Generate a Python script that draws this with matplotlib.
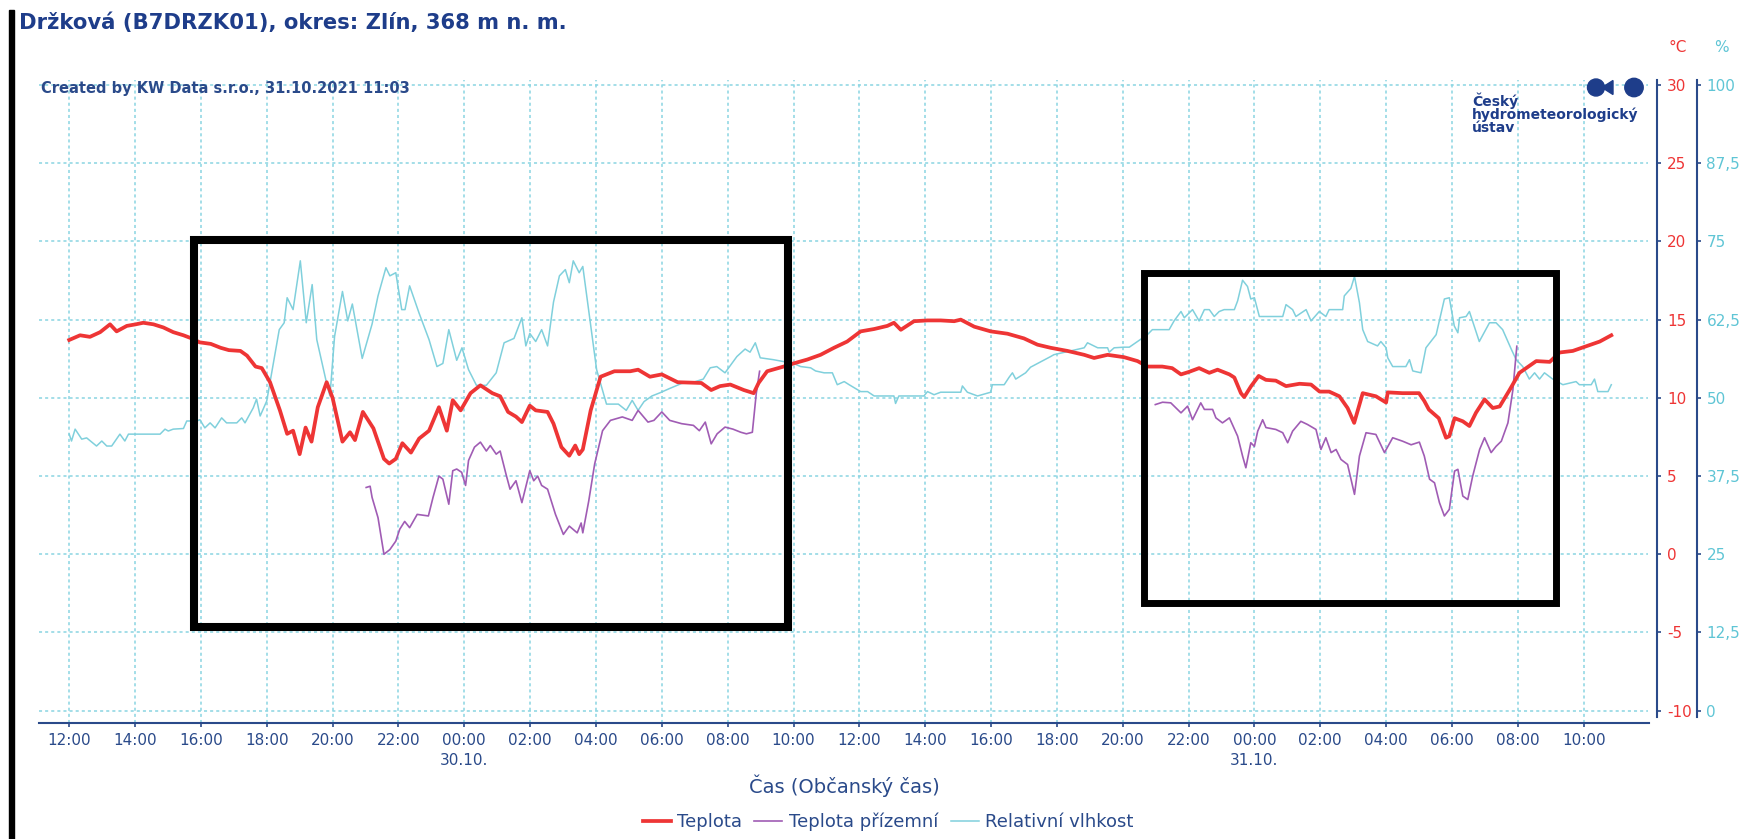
import numpy as np
import pandas as pd
import matplotlib
matplotlib.use("Agg")
import matplotlib.pyplot as plt
import matplotlib.dates as mdates
from matplotlib.patches import Rectangle, Circle, Polygon

plt.rcParams['font.family'] = ['DejaVu Sans']
plt.rcParams['axes.unicode_minus'] = False

W, H = 1749, 839
start = pd.Timestamp("2021-10-29 12:00")

# hodiny od 29.10. 12:00
teplota_h = [0.0, 0.33, 0.63, 0.94, 1.24, 1.44, 1.75, 2.02, 2.25, 2.56,
             2.86, 3.16, 3.47, 3.72, 3.96, 4.3, 4.6, 4.85, 5.2, 5.4,
             5.66, 5.85, 6.1, 6.4, 6.62, 6.8, 7.0, 7.18, 7.36, 7.55,
             7.82, 8.0, 8.3, 8.53, 8.68, 8.92, 9.24, 9.56, 9.72, 9.92,
             10.12, 10.38, 10.63, 10.93, 11.23, 11.47, 11.65, 11.89, 12.19, 12.49,
             12.85, 13.09, 13.33, 13.57, 13.75, 13.99, 14.17, 14.53, 14.71, 14.95,
             15.19, 15.37, 15.49, 15.6, 15.84, 16.14, 16.56, 17.04, 17.28, 17.64,
             18.0, 18.48, 19.2, 19.5, 19.77, 20.08, 20.49, 20.79, 20.94, 21.2,
             21.7, 22.0, 22.42, 22.82, 23.23, 23.63, 24.04, 24.45, 24.85, 25.05,
             25.26, 25.66, 26.07, 26.47, 26.88, 27.08, 27.49, 27.99, 28.5, 29.0,
             29.41, 29.81, 30.32, 30.83, 31.13, 31.54, 32.04, 32.45, 32.75, 33.2,
             33.5, 33.77, 34.0, 34.32, 34.63, 34.88, 35.24, 35.39, 35.59, 35.69,
             35.9, 36.13, 36.35, 36.65, 36.96, 37.37, 37.72, 37.98, 38.27, 38.58,
             38.83, 39.03, 39.29, 39.69, 40.0, 40.05, 40.5, 41.0, 41.16, 41.3,
             41.6, 41.82, 41.92, 42.08, 42.33, 42.53, 42.73, 42.99, 43.24, 43.45,
             43.75, 44.05, 44.56, 44.97, 45.27, 45.67, 46.08, 46.49, 46.84]
teplota = [13.7, 14.0, 13.9, 14.2, 14.7, 14.25, 14.6, 14.7, 14.8, 14.7,
           14.5, 14.2, 14.0, 13.8, 13.55, 13.45, 13.2, 13.05, 13.0, 12.7,
           12.0, 11.9, 11.0, 9.2, 7.7, 7.9, 6.4, 8.1, 7.2, 9.4,
           11.0, 10.0, 7.2, 7.8, 7.3, 9.1, 8.05, 6.1, 5.8, 6.1,
           7.1, 6.5, 7.4, 7.9, 9.4, 7.9, 9.85, 9.2, 10.3, 10.8,
           10.3, 10.1, 9.1, 8.8, 8.45, 9.5, 9.2, 9.1, 8.35, 6.85,
           6.3, 6.95, 6.4, 6.7, 9.2, 11.35, 11.7, 11.7, 11.8, 11.35,
           11.5, 11.0, 10.95, 10.5, 10.75, 10.85, 10.5, 10.3, 10.95, 11.7,
           12.0, 12.2, 12.45, 12.75, 13.2, 13.6, 14.25, 14.4, 14.6, 14.8,
           14.35, 14.9, 14.95, 14.95, 14.9, 15.0, 14.55, 14.25, 14.1, 13.8,
           13.4, 13.2, 13.0, 12.75, 12.55, 12.75, 12.6, 12.35, 12.0, 12.0,
           11.9, 11.5, 11.65, 11.9, 11.6, 11.8, 11.5, 11.3, 10.3, 10.05,
           10.75, 11.4, 11.15, 11.1, 10.75, 10.9, 10.85, 10.4, 10.4, 10.1,
           9.35, 8.4, 10.3, 10.1, 9.7, 10.35, 10.3, 10.3, 9.8, 9.25,
           8.7, 7.45, 7.55, 8.7, 8.5, 8.2, 9.05, 9.9, 9.35, 9.45,
           10.5, 11.6, 12.35, 12.3, 12.9, 13.0, 13.3, 13.6, 14.0]

vlhkost_h = [0.0, 0.07, 0.18, 0.38, 0.53, 0.83, 0.99, 1.14, 1.29, 1.54,
             1.69, 1.8, 2.76, 2.91, 3.01, 3.16, 3.47, 3.57, 3.87, 3.97,
             4.12, 4.28, 4.43, 4.63, 4.78, 5.09, 5.24, 5.34, 5.59, 5.69,
             5.8, 6.0, 6.2, 6.38, 6.53, 6.62, 6.8, 7.02, 7.2, 7.38,
             7.52, 7.82, 7.92, 8.06, 8.3, 8.46, 8.6, 8.9, 9.2, 9.38,
             9.62, 9.74, 9.92, 10.1, 10.2, 10.34, 10.63, 10.93, 11.17, 11.35,
             11.53, 11.77, 11.93, 12.13, 12.37, 12.67, 12.97, 13.21, 13.51, 13.75,
             13.87, 13.99, 14.17, 14.35, 14.53, 14.71, 14.89, 15.07, 15.19, 15.31,
             15.49, 15.6, 15.72, 16.02, 16.32, 16.68, 16.92, 17.1, 17.28, 17.46,
             17.7, 17.94, 18.24, 18.6, 18.96, 19.26, 19.47, 19.67, 19.92, 20.28,
             20.53, 20.68, 20.84, 20.99, 21.39, 22.0, 22.22, 22.52, 22.67, 22.93,
             23.18, 23.33, 23.54, 23.69, 24.04, 24.25, 24.45, 25.05, 25.1, 25.2,
             25.96, 26.07, 26.27, 26.47, 27.08, 27.13, 27.28, 27.59, 27.99, 28.04,
             28.4, 28.55, 28.65, 28.75, 29.05, 29.2, 29.81, 29.91, 30.83, 30.93,
             31.24, 31.54, 31.59, 31.74, 32.04, 32.2, 32.45, 32.75, 32.9, 33.41,
             33.56, 33.77, 33.87, 34.12, 34.32, 34.48, 34.63, 34.78, 34.93, 35.08,
             35.39, 35.49, 35.64, 35.79, 35.89, 36.0, 36.15, 36.86, 36.96, 37.16,
             37.26, 37.57, 37.72, 37.97, 38.17, 38.27, 38.68, 38.73, 38.93, 39.04,
             39.19, 39.29, 39.44, 39.74, 39.84, 40.0, 40.05, 40.2, 40.6, 40.71,
             40.81, 41.06, 41.21, 41.52, 41.77, 41.92, 42.07, 42.18, 42.23, 42.43,
             42.53, 42.83, 43.14, 43.34, 43.54, 43.8, 43.95, 44.15, 44.35, 44.51,
             44.66, 44.81, 45.06, 45.37, 45.77, 45.87, 46.23, 46.33, 46.43, 46.74,
             46.84]
vlhkost = [44.2, 43.1, 45.0, 43.4, 43.6, 42.3, 43.1, 42.3, 42.3, 44.2,
           43.1, 44.2, 44.2, 45.0, 44.7, 45.0, 45.1, 46.3, 46.3, 46.5,
           45.2, 46.0, 45.2, 46.8, 46.0, 46.0, 46.8, 46.0, 48.4, 49.8,
           47.1, 49.5, 55.5, 60.9, 62.0, 66.0, 64.1, 71.9, 62.0, 68.1,
           59.3, 52.3, 50.3, 59.8, 67.0, 62.3, 65.0, 56.3, 61.8, 66.3,
           70.8, 69.5, 70.0, 64.1, 64.1, 67.9, 63.5, 59.3, 55.0, 55.5,
           60.9, 56.0, 58.0, 54.5, 52.0, 52.0, 54.0, 58.8, 59.5, 62.8,
           58.3, 60.3, 59.0, 60.9, 58.3, 65.3, 69.5, 70.5, 68.4, 71.9,
           70.0, 71.0, 66.3, 54.5, 49.0, 49.0, 48.0, 49.6, 48.0, 49.4,
           50.3, 50.8, 51.5, 52.3, 52.5, 53.0, 54.8, 55.0, 54.0, 56.6,
           57.8, 57.3, 58.8, 56.4, 56.1, 55.5, 55.0, 54.8, 54.3, 54.0,
           54.0, 52.1, 52.6, 52.1, 51.0, 51.0, 50.3, 50.3, 49.1, 50.3,
           50.3, 51.0, 50.5, 50.9, 50.9, 51.9, 50.9, 50.3, 50.9, 52.1,
           52.1, 53.3, 54.0, 53.0, 54.0, 54.9, 56.6, 56.9, 58.0, 58.8,
           58.0, 58.0, 57.3, 58.0, 58.1, 58.1, 59.0, 60.1, 60.9, 60.9,
           62.3, 63.8, 62.8, 64.1, 62.3, 64.1, 64.1, 63.0, 63.8, 64.1,
           64.1, 65.5, 68.8, 67.8, 65.8, 66.0, 63.0, 63.0, 64.9, 64.1,
           63.0, 64.1, 62.3, 63.8, 63.0, 64.1, 64.1, 66.3, 67.5, 69.4,
           65.2, 60.9, 59.0, 58.3, 59.0, 58.0, 56.4, 55.0, 55.0, 56.1,
           54.3, 54.0, 58.0, 60.1, 65.8, 66.0, 61.5, 60.4, 62.8, 63.0,
           63.8, 59.0, 62.0, 62.0, 60.9, 57.8, 56.1, 55.0, 53.0, 54.0,
           53.0, 54.0, 53.0, 52.1, 52.6, 52.1, 52.1, 53.0, 51.0, 51.0,
           52.1]

# teplota prizemni - chybi data mezi 30.10. 09:00 a 21:00
prizemni_h = [9.02, 9.14, 9.2, 9.38, 9.56, 9.74, 9.92, 10.04, 10.19, 10.34,
              10.57, 10.91, 11.05, 11.23, 11.35, 11.53, 11.65, 11.77, 11.92, 12.04,
              12.13, 12.31, 12.49, 12.67, 12.79, 12.97, 13.09, 13.27, 13.39, 13.57,
              13.75, 13.99, 14.11, 14.23, 14.35, 14.53, 14.77, 15.01, 15.19, 15.43,
              15.55, 15.6, 15.78, 15.96, 16.2, 16.44, 16.8, 17.1, 17.28, 17.58,
              17.76, 18.0, 18.24, 18.6, 18.96, 19.14, 19.32, 19.5, 19.68, 19.92,
              20.16, 20.4, 20.57, 20.75, 20.87, 20.97, 27.0,
              32.99, 33.21, 33.46, 33.77, 33.97, 34.12, 34.37, 34.48, 34.73, 34.83,
              35.03, 35.24, 35.49, 35.64, 35.74, 35.89, 36.0, 36.1, 36.25, 36.35,
              36.65, 36.86, 37.01, 37.16, 37.41, 37.61, 37.87, 38.02, 38.17, 38.33,
              38.48, 38.63, 38.83, 39.04, 39.19, 39.39, 39.69, 39.95, 40.2, 40.5,
              40.76, 41.01, 41.16, 41.32, 41.47, 41.62, 41.77, 41.92, 42.08, 42.18,
              42.33, 42.48, 42.63, 42.84, 42.99, 43.19, 43.34, 43.5, 43.7, 43.85,
              43.97]
prizemni = [4.27, 4.35, 3.63, 2.34, 0.0, 0.3, 0.84, 1.6, 2.1, 1.7,
            2.55, 2.45, 3.63, 5.0, 4.8, 3.2, 5.34, 5.45, 5.24, 4.4,
            6.0, 6.85, 7.17, 6.6, 6.95, 6.4, 6.6, 5.1, 4.16, 4.7,
            3.3, 5.34, 4.7, 5.0, 4.4, 4.16, 2.55, 1.27, 1.8, 1.37,
            2.0, 1.37, 3.4, 5.77, 7.9, 8.56, 8.78, 8.56, 9.2, 8.45,
            8.56, 9.1, 8.56, 8.35, 8.24, 7.9, 8.45, 7.06, 7.7, 8.13,
            8.0, 7.8, 7.7, 7.8, 10.3, 11.7, np.nan,
            9.57, 9.72, 9.68, 9.04, 9.47, 8.6, 9.68, 9.26, 9.26, 8.72,
            8.4, 8.72, 7.55, 6.28, 5.53, 7.13, 6.9, 7.87, 8.6, 8.1,
            7.98, 7.77, 7.13, 7.87, 8.5, 8.3, 7.98, 6.7, 7.45, 6.5,
            6.7, 6.06, 5.74, 3.83, 6.28, 7.77, 7.66, 6.5, 7.45, 7.23,
            7.0, 7.17, 6.28, 4.8, 4.57, 3.3, 2.45, 2.87, 5.32, 5.43,
            3.72, 3.5, 5.0, 6.7, 7.45, 6.5, 6.9, 7.23, 8.4, 10.5,
            13.3]

temp_ticks = [-10, -5, 0, 5, 10, 15, 20, 25, 30]
hum_ticks = [0, 12.5, 25, 37.5, 50, 62.5, 75, 87.5, 100]
hum_labels = ["0", "12,5", "25", "37,5", "50", "62,5", "75", "87,5", "100"]
date_labels = {"2021-10-30": "30.10.", "2021-10-31": "31.10."}

navy = "#2a4a8a"
title_col = "#1e3d8a"
red = "#ee3535"
purple = "#a05cb4"
cyan = "#80d0dc"
cyan_txt = "#5fc5d5"
grid_col = "#8ad5e2"


def to_time(hours):
    return (start + pd.to_timedelta(np.array(hours), unit="h")).to_pydatetime()


fig = plt.figure(figsize=(W / 100, H / 100), dpi=100)
fig.patch.set_facecolor("white")

rect = [39.3 / W, 1 - 723.3 / H, (1648.5 - 39.3) / W, (723.3 - 80) / H]
t_lo, t_hi = -10.806, 30.32

# vlhkost vzadu, teplota navrchu
ax_h = fig.add_axes(rect)
ax = fig.add_axes(rect, sharex=ax_h)
ax.patch.set_visible(False)

ax_h.plot(to_time(vlhkost_h), vlhkost, color=cyan, lw=1.1, label="Relativní vlhkost")
ax.plot(to_time(prizemni_h), prizemni, color=purple, lw=1.2, label="Teplota přízemní")
ax.plot(to_time(teplota_h), teplota, color=red, lw=2.7, label="Teplota")

ax.set_xlim(start - pd.Timedelta(minutes=54.5), start + pd.Timedelta(hours=47.97))
ax.set_ylim(t_lo, t_hi)
ax_h.set_ylim((t_lo + 10) * 2.5, (t_hi + 10) * 2.5)

ax.xaxis.set_major_locator(mdates.HourLocator(byhour=range(0, 24, 2)))
ax.xaxis.set_major_formatter(mdates.DateFormatter("%H:%M"))

# osa teploty
for s in ["left", "top"]:
    ax.spines[s].set_visible(False)
ax.spines["right"].set_position(("outward", 6.3))
ax.spines["right"].set_bounds(-10.38, t_hi)
ax.spines["right"].set_color(navy)
ax.spines["right"].set_linewidth(1.5)
ax.spines["bottom"].set_color(navy)
ax.spines["bottom"].set_linewidth(1.5)
ax.yaxis.set_ticks_position("right")
ax.set_yticks(temp_ticks)
ax.tick_params(axis="y", length=3, width=1.2, color=navy, labelcolor=red,
               labelsize=11, pad=4)
ax.tick_params(axis="x", length=3, width=1.2, color=navy, labelcolor=navy,
               labelsize=11, pad=4)

# osa vlhkosti
for s in ["left", "top", "bottom"]:
    ax_h.spines[s].set_visible(False)
ax_h.spines["right"].set_position(("outward", 34.7))
ax_h.spines["right"].set_bounds(-0.95, (t_hi + 10) * 2.5)
ax_h.spines["right"].set_color(navy)
ax_h.spines["right"].set_linewidth(1.5)
ax_h.yaxis.set_ticks_position("right")
ax_h.set_yticks(hum_ticks)
ax_h.set_yticklabels(hum_labels)
ax_h.tick_params(axis="y", length=3, width=1.2, color=navy, labelcolor=cyan_txt,
                 labelsize=11, pad=4)
ax_h.tick_params(axis="x", length=0, labelbottom=False)
ax_h.grid(True, color=grid_col, linestyle=(0, (2, 2)), linewidth=1.1)

# datumy pod pulnoci
for d, lab in date_labels.items():
    ax.text(mdates.date2num(pd.Timestamp(d).to_pydatetime()), -0.058, lab,
            transform=ax.get_xaxis_transform(), ha="center", va="center",
            fontsize=11, color=navy)

ax.set_xlabel("Čas (Občanský čas)", fontsize=14, color=navy)
ax.xaxis.set_label_coords(0.5, -0.0975)
ax.xaxis.label.set_va("center")

handles = [ax.lines[1], ax.lines[0], ax_h.lines[0]]
fig.legend(handles, [h.get_label() for h in handles], loc="center",
           bbox_to_anchor=(888 / W, 1 - 821.7 / H), ncol=3, frameon=False,
           fontsize=13, handlelength=1.55, handletextpad=0.35,
           columnspacing=0.7, labelcolor=navy)

# texty a znacky nad grafem (v pixelech obrazku)
ov = fig.add_axes([0, 0, 1, 1])
ov.set_xlim(0, W)
ov.set_ylim(H, 0)
ov.set_axis_off()

ov.add_patch(Rectangle((9.5, 10), 5, H - 10, color="black"))
ov.text(19, 23, "Držková (B7DRZK01), okres: Zlín, 368 m n. m.", fontsize=15.2,
        fontweight="bold", color=title_col, va="center", ha="left")
ov.text(41.5, 88, "Created by KW Data s.r.o., 31.10.2021 11:03", fontsize=10.5,
        fontweight="bold", color=navy, va="center", ha="left")
ov.text(1677.5, 48, "°C", fontsize=11, color=red, ha="center", va="center")
ov.text(1721, 48, "%", fontsize=11, color=cyan_txt, ha="center", va="center")

# logo CHMU
ov.add_patch(Circle((1596, 87.5), 8.5, color=title_col))
ov.add_patch(Polygon([(1602, 87.5), (1613, 80.5), (1613, 94.5)], color=title_col))
ov.add_patch(Circle((1634, 87.5), 9.2, color=title_col))
for i, line in enumerate(["Český", "hydrometeorologický", "ústav"]):
    ov.text(1472, 101 + i * 13.5, line, fontsize=10, fontweight="bold",
            color=title_col, va="center", ha="left")

# cerne obdelniky
ov.add_patch(Rectangle((194.5, 240), 788 - 194.5, 627 - 240, fill=False,
                       edgecolor="black", lw=5.8))
ov.add_patch(Rectangle((1144, 272.5), 1556 - 1144, 602.5 - 272.5, fill=False,
                       edgecolor="black", lw=5.0))

fig.savefig("out.png", dpi=100)
